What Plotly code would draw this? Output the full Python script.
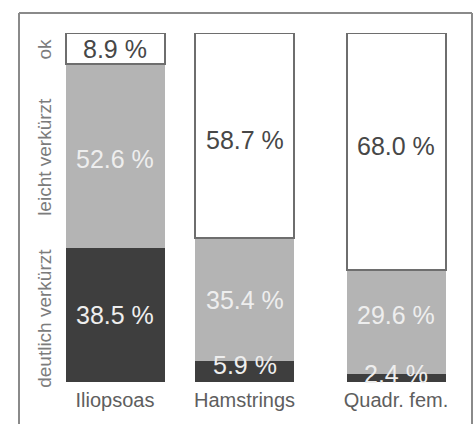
import plotly.graph_objects as go

# ---- data ----
categories = ["Iliopsoas", "Hamstrings", "Quadr. fem."]
series_names = ["deutlich verkürzt", "leicht verkürzt", "ok"]
deutlich = [38.5, 5.9, 2.4]
leicht = [52.6, 35.4, 29.6]
ok = [8.9, 58.7, 68.0]

# ---- layout helpers (positions / styles) ----
W, H = 476, 424
bar_centers = [1.15, 2.445, 3.96]
bar_width = 0.99
x_range = [0, 4.76]
fill_colors = ["#3e3e3e", "#b4b4b4", "#ffffff"]
text_colors = ["#eeeeee", "#eeeeee", "#474747"]
line_widths = [0, 0, 2]
line_color = "#6e6e6e"
FONT = "Liberation Sans"
# small vertical nudges (px) of the value labels, keyed by (bar index, series index)
label_shift = {(1, 0): 7, (2, 0): 4, (2, 2): 6, (2, 1): 7, (1, 2): -5, (0, 1): -3}

series_values = [deutlich, leicht, ok]

fig = go.Figure()
for si, (name, vals) in enumerate(zip(series_names, series_values)):
    fig.add_trace(go.Bar(
        x=bar_centers, y=vals, name=name, width=bar_width,
        marker=dict(color=fill_colors[si],
                    line=dict(color=line_color if line_widths[si] else fill_colors[si],
                              width=line_widths[si])),
        hoverinfo="skip",
    ))

annotations = []
# value labels
for ci in range(len(categories)):
    base = 0.0
    for si, vals in enumerate(series_values):
        v = vals[ci]
        annotations.append(dict(
            x=bar_centers[ci], y=base + v / 2, xref="x", yref="y",
            xanchor="center", yanchor="middle",
            text=f"{v:.1f} %", showarrow=False,
            font=dict(family=FONT, size=25, color=text_colors[si]),
            yshift=label_shift.get((ci, si), 0),
        ))
        base += v

# rotated category labels on the left (aligned with first bar segments)
base = 0.0
for si, vals in enumerate(series_values):
    v = vals[0]
    annotations.append(dict(
        x=45 / W, y=base + v / 2, xref="paper", yref="y",
        xanchor="center", yanchor="middle",
        text=series_names[si], showarrow=False, textangle=-90,
        font=dict(family=FONT, size=19, color="#7c7c7c"),
        yshift=-4 if si == 0 else -1,
    ))
    base += v

top_m, bot_m = 33, 42
ph = H - top_m - bot_m
def py(p):  # pixel y -> paper y
    return (H - bot_m - p) / ph
def px(p):
    return p / W

frame = dict(color="#8a8a8a", width=2)
shapes = [
    dict(type="line", xref="paper", yref="paper", x0=px(19), x1=px(19), y0=py(13), y1=py(430), line=frame),
    dict(type="line", xref="paper", yref="paper", x0=px(19), x1=px(472), y0=py(13), y1=py(13), line=frame),
    dict(type="line", xref="paper", yref="paper", x0=px(472), x1=px(472), y0=py(13), y1=py(430), line=frame),
]

fig.update_layout(
    width=W, height=H,
    margin=dict(l=0, r=0, t=top_m, b=bot_m),
    barmode="stack", showlegend=False,
    paper_bgcolor="white", plot_bgcolor="white",
    annotations=annotations, shapes=shapes,
    xaxis=dict(range=x_range, tickvals=bar_centers, ticktext=categories,
               showgrid=False, zeroline=False, showline=False, ticks="",
               tickfont=dict(family=FONT, size=20, color="#5e5e5e"),
               ticklabelstandoff=4),
    yaxis=dict(range=[0, 100], showgrid=False, zeroline=False, showline=False,
               showticklabels=False, ticks=""),
)

fig.write_html("out.html")
